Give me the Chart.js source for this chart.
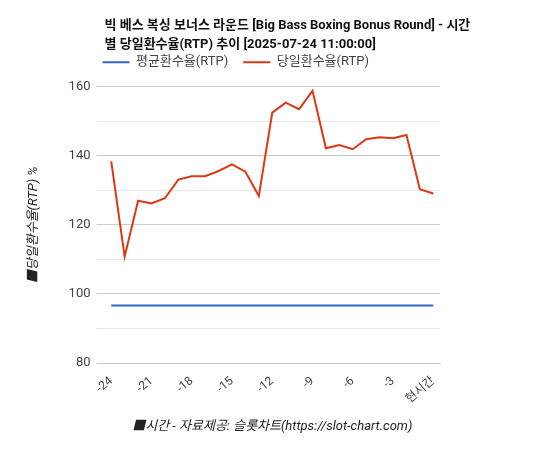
<!DOCTYPE html>
<html>
<head>
<meta charset="utf-8">
<script src="https://cdn.jsdelivr.net/npm/chart.js@4.4.1/dist/chart.umd.min.js"></script>
<style>
  html, body { margin: 0; padding: 0; background: #fff; }
  #wrap { width: 544px; height: 450px; position: relative; }
</style>
</head>
<body>
<div id="wrap"><canvas id="rtpChart"></canvas></div>
<script>
// 시간축 라벨 (24시간 전 ~ 현시간)
const hourLabels = ['-24', '-23', '-22', '-21', '-20', '-19', '-18', '-17', '-16', '-15', '-14', '-13',
                    '-12', '-11', '-10', '-9', '-8', '-7', '-6', '-5', '-4', '-3', '-2', '-1', '현시간'];

// 평균환수율(RTP)
const avgRtp = [96.7, 96.7, 96.7, 96.7, 96.7, 96.7, 96.7, 96.7, 96.7, 96.7, 96.7, 96.7,
                96.7, 96.7, 96.7, 96.7, 96.7, 96.7, 96.7, 96.7, 96.7, 96.7, 96.7, 96.7, 96.7];

// 당일환수율(RTP)
const dailyRtp = [138.4, 110.8, 127.0, 126.2, 127.7, 133.1, 134.1, 134.1, 135.6, 137.5, 135.4, 128.4,
                  152.5, 155.4, 153.5, 158.8, 142.2, 143.1, 141.9, 144.8, 145.4, 145.1, 146.0, 130.3, 129.1];

const titleLines = ['빅 베스 복싱 보너스 라운드 [Big Bass Boxing Bonus Round] - 시간',
                    '별 당일환수율(RTP) 추이 [2025-07-24 11:00:00]'];

const FONT = "Roboto, 'Noto Sans CJK KR', sans-serif";

// title/legend start at the plot's left edge, title may run past the plot width
const headerAlign = {
    id: 'headerAlign',
    afterLayout(chart) {
        const left = chart.chartArea.left;
        if (chart.titleBlock) {
            chart.titleBlock.left = left;
            chart.titleBlock.right = chart.width;
        }
        if (chart.legend) {
            chart.legend.left = left - 17;
            chart.legend.top -= 8;
        }
    }
};

new Chart(document.getElementById('rtpChart'), {
    type: 'line',
    data: {
        labels: hourLabels,
        datasets: [{
            label: '평균환수율(RTP)',
            data: avgRtp,
            borderColor: '#3366cc',
            backgroundColor: '#3366cc',
            borderWidth: 2,
            pointRadius: 0,
            tension: 0
        }, {
            label: '당일환수율(RTP)',
            data: dailyRtp,
            borderColor: '#dc3912',
            backgroundColor: '#dc3912',
            borderWidth: 2,
            pointRadius: 0,
            tension: 0
        }]
    },
    plugins: [headerAlign],
    options: {
        responsive: true,
        maintainAspectRatio: false,
        animation: false,
        layout: {
            padding: { left: 22, right: 104, top: 12, bottom: 11 }
        },
        plugins: {
            title: {
                display: true,
                text: titleLines,
                align: 'start',
                fullSize: false,
                color: '#111',
                font: { family: FONT, size: 13, weight: 'bold', lineHeight: 1.45 },
                padding: { top: 4, bottom: -5 }
            },
            legend: {
                position: 'top',
                align: 'start',
                fullSize: false,
                labels: {
                    boxWidth: 27,
                    boxHeight: 0,
                    color: '#444',
                    padding: 15,
                    font: { family: FONT, size: 13 }
                }
            },
            tooltip: { enabled: false }
        },
        scales: {
            x: {
                offset: true,
                grid: { display: false },
                border: { color: '#ccc' },
                ticks: {
                    color: '#444',
                    font: { family: FONT, size: 12 },
                    maxRotation: 40,
                    minRotation: 40,
                    autoSkip: false,
                    callback: function (val, i) {
                        return i % 3 === 0 ? hourLabels[i] : null;
                    }
                },
                title: {
                    display: true,
                    text: '■시간 - 자료제공: 슬롯차트(https://slot-chart.com)',
                    color: '#222',
                    font: { family: FONT, size: 13, style: 'italic' },
                    padding: { top: 10 }
                }
            },
            y: {
                min: 80,
                max: 160,
                grid: {
                    color: function (ctx) {
                        return ctx.tick && ctx.tick.value % 20 === 0 ? '#cccccc' : '#e8e8e8';
                    },
                    tickLength: 8
                },
                border: { display: false },
                ticks: {
                    stepSize: 10,
                    color: '#444',
                    padding: 6,
                    font: { family: FONT, size: 13 },
                    callback: function (v) {
                        return v % 20 === 0 ? v : '';
                    }
                },
                title: {
                    display: true,
                    text: '■당일환수율(RTP) %',
                    color: '#222',
                    font: { family: FONT, size: 13, style: 'italic' },
                    padding: { bottom: 21 }
                }
            }
        }
    }
});
</script>
</body>
</html>
